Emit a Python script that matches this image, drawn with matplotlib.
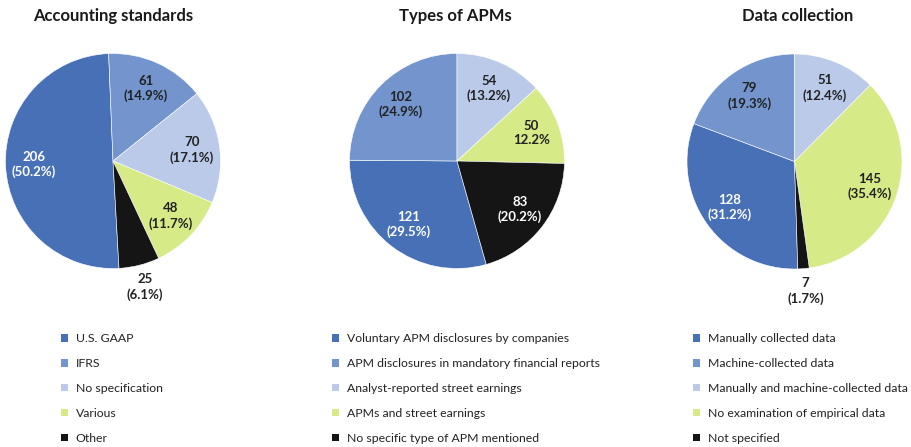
import numpy as np
import matplotlib
matplotlib.use("Agg")
import matplotlib.pyplot as plt
from matplotlib.patches import Patch

# ---------------- data ----------------
titles = ["Accounting standards", "Types of APMs", "Data collection"]

acc_labels = ["U.S. GAAP", "IFRS", "No specification", "Various", "Other"]
acc_values = [206, 61, 70, 48, 25]

apm_labels = ["Voluntary APM disclosures by companies",
              "APM disclosures in mandatory financial reports",
              "Analyst-reported street earnings",
              "APMs and street earnings",
              "No specific type of APM mentioned"]
apm_values = [121, 102, 54, 50, 83]

dat_labels = ["Manually collected data", "Machine-collected data",
              "Manually and machine-collected data",
              "No examination of empirical data", "Not specified"]
dat_values = [128, 79, 51, 145, 7]

# ---------------- style ----------------
colors = ["#4770B7", "#7394CC", "#BACAE8", "#D6EA87", "#151515"]
text_colors = ["white", "#222222", "#222222", "#222222", "white"]
start_angles = [-86.8, -74.2, -88.24]
outside = [[4], [], [4]]          # slices whose label sits outside
no_paren = [[], [3], []]          # percent shown without parentheses
centers = [(113, 161), (457, 161), (794.5, 161.5)]
radius_px = 107.5
title_x = [113, 455, 797.5]
legend_x = [61, 332, 693]

W, H = 912, 447
fig = plt.figure(figsize=(W / 100, H / 100), dpi=100)
FONT = ["Lato", "DejaVu Sans"]

datasets = [(acc_labels, acc_values), (apm_labels, apm_values), (dat_labels, dat_values)]

for i, (labels, values) in enumerate(datasets):
    cx, cy = centers[i]
    ax = fig.add_axes([(cx - radius_px) / W, (H - cy - radius_px) / H,
                       2 * radius_px / W, 2 * radius_px / H])
    wedges, _ = ax.pie(values, colors=colors, startangle=start_angles[i],
                       counterclock=False, radius=1,
                       wedgeprops=dict(edgecolor="white", linewidth=0.4))
    ax.set_xlim(-1, 1)
    ax.set_ylim(-1, 1)
    ax.set_aspect("equal")
    ax.axis("off")
    total = sum(values)
    for j, (w, v) in enumerate(zip(wedges, values)):
        ang = np.deg2rad((w.theta1 + w.theta2) / 2)
        pct = 100 * v / total
        if j in no_paren[i]:
            txt = f"{v}\n{pct:.1f}%"
        else:
            txt = f"{v}\n({pct:.1f}%)"
        if j in outside[i]:
            r = 1.21
            col = "#222222"
        else:
            r = 0.74
            col = text_colors[j]
        ax.text(r * np.cos(ang), r * np.sin(ang), txt, ha="center", va="center",
                fontsize=9.5, fontweight="bold", color=col, family=FONT,
                linespacing=1.25, clip_on=False)

    fig.text(title_x[i] / W, 1 - 16 / H, titles[i], ha="center", va="center",
             fontsize=12, fontweight="bold", color="#1a1a1a", family=FONT)

    handles = [Patch(facecolor=c, edgecolor="none") for c in colors]
    leg = fig.legend(handles, labels, loc="upper left",
                     bbox_to_anchor=(legend_x[i] / W, 1 - 333.5 / H),
                     frameon=False, handlelength=0.55, handleheight=0.55,
                     handletextpad=0.65, labelspacing=1.13, borderpad=0,
                     borderaxespad=0, prop={"family": FONT, "size": 8.8})
    for t in leg.get_texts():
        t.set_color("#222222")

fig.savefig("out.png", dpi=100)
